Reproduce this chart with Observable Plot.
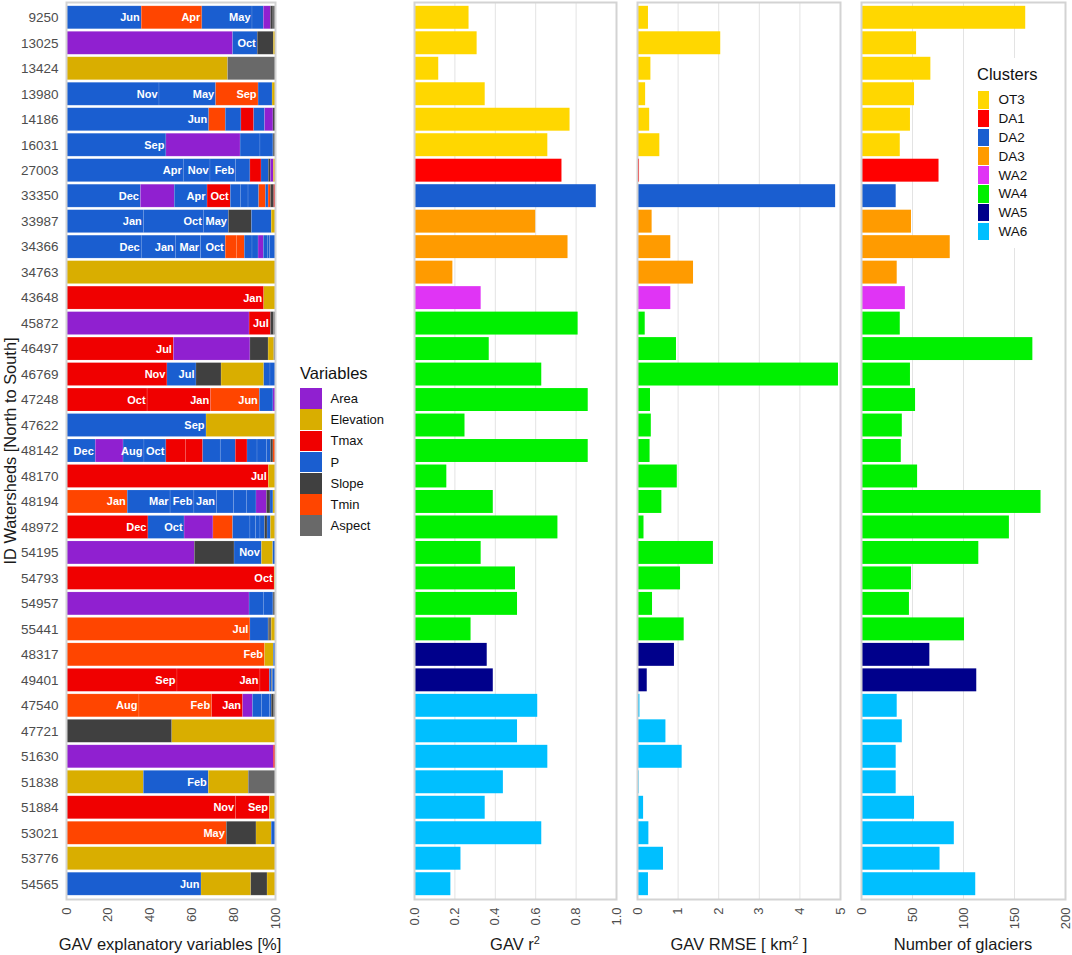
<!DOCTYPE html>
<html>
<head>
<meta charset="utf-8">
<script src="https://cdn.jsdelivr.net/npm/d3@7"></script>
<script src="https://cdn.jsdelivr.net/npm/@observablehq/plot@0.6"></script>
<style>
  body { margin: 0; background: white; font-family: "Liberation Sans", Arial, sans-serif; }
  #chart { position: relative; width: 1072px; height: 955px; overflow: hidden; }
  #chart > svg { position: absolute; top: 0; background: transparent; }
  .title { position: absolute; top: 934px; font-size: 16.5px; color: #1a1a1a; text-align: center; white-space: nowrap; line-height: 20px; }
  .title sup { font-size: 11px; line-height: 0; }
  .legend { position: absolute; background: white; color: #111; }
  .legend h4 { margin: 0; font-weight: normal; font-size: 16.5px; line-height: 20px; }
  .legend .row { position: absolute; display: flex; align-items: center; font-size: 13px; }
  .legend .key { flex: none; }
</style>
</head>
<body>
<div id="chart"></div>
<script>
const ids = ["9250","13025","13424","13980","14186","16031","27003","33350","33987","34366","34763","43648","45872","46497","46769","47248","47622","48142","48170","48194","48972","54195","54793","54957","55441","48317","49401","47540","47721","51630","51838","51884","53021","53776","54565"];

const clusters = ["OT3","OT3","OT3","OT3","OT3","OT3","DA1","DA2","DA3","DA3","DA3","WA2","WA4","WA4","WA4","WA4","WA4","WA4","WA4","WA4","WA4","WA4","WA4","WA4","WA4","WA5","WA5","WA6","WA6","WA6","WA6","WA6","WA6","WA6","WA6"];

const r2 = [.27,.31,.12,.35,.77,.66,.73,.90,.60,.76,.19,.33,.81,.37,.63,.86,.25,.86,.16,.39,.71,.33,.50,.51,.28,.36,.39,.61,.51,.66,.44,.35,.63,.23,.18];

const rmse = [.27,2.05,.33,.2,.3,.55,.05,4.88,.36,.82,1.38,.82,.19,.96,4.95,.32,.34,.31,.98,.6,.16,1.87,1.06,.37,1.15,.91,.24,.06,.7,1.1,.04,.15,.28,.64,.27];

const glaciers = [161,54,68,52,48,38,76,34,49,87,35,43,38,168,48,53,40,39,55,176,145,115,49,47,101,67,113,35,40,34,34,52,91,77,112];

// [variable, share %, month of the climate variable] for every watershed, left to right
const segments = [
  [["P",36,"Jun"],["Tmin",29,"Apr"],["P",24,"May"],["P",5.4],["Area",3.4],["Slope",1.2],["Aspect",1]],
  [["Area",79.7],["P",11.8,"Oct"],["Slope",7.7],["Elevation",.8]],
  [["Elevation",77.3],["Aspect",22.7]],
  [["P",44.5,"Nov"],["P",27.1,"May"],["Tmin",20.3,"Sep"],["P",6.7],["Elevation",1.4]],
  [["P",68.3,"Jun"],["Tmin",7.9],["P",7.5],["Tmax",6.1],["P",5.2],["Area",4],["Slope",1]],
  [["P",47.8,"Sep"],["Area",35.5],["P",9.5],["P",6.2],["Aspect",1]],
  [["P",56.1,"Apr"],["P",12.8,"Nov"],["P",12.3,"Feb"],["P",6.8],["Tmax",5.3],["P",3.5],["Slope",1],["Area",1.4],["Elevation",.8]],
  [["P",35.6,"Dec"],["Area",16.2],["P",15.7,"Apr"],["Tmax",11.1,"Oct"],["P",4.8],["P",3.7],["P",5.1],["Tmin",3.2],["P",1.3],["Tmin",1.1],["Slope",1.6],["Tmax",.6]],
  [["P",37,"Jan"],["P",28.7,"Oct"],["P",12,"May"],["Slope",11],["P",9.5],["Elevation",1.8]],
  [["P",36,"Dec"],["P",16.3,"Jan"],["P",12.1,"Mar"],["P",11.8,"Oct"],["Tmin",5.3],["Tmin",3.8],["P",3.7],["P",2.9],["Area",2.5],["P",1.9],["P",1.1],["P",2.6]],
  [["Elevation",100]],
  [["Tmax",94.6,"Jan"],["Elevation",5.4]],
  [["Area",87.6],["Tmax",10.2,"Jul"],["Slope",1.4],["Aspect",.8]],
  [["Tmax",51.4,"Jul"],["Area",36.6],["Slope",8.7],["Elevation",2.7],["Aspect",.6]],
  [["Tmax",48.3,"Nov"],["P",13.9,"Jul"],["Slope",12],["Elevation",20.4],["P",3],["P",2.4]],
  [["Tmax",38.8,"Oct"],["Tmax",30.4,"Jan"],["Tmin",23.3,"Jun"],["P",6.5],["Area",1]],
  [["P",67,"Sep"],["Elevation",33]],
  [["P",14,"Dec"],["Area",13.3],["P",10,"Aug"],["P",10.5,"Oct"],["Tmax",9.3],["Tmax",8.3],["P",8.4],["P",7.2],["Tmax",5.6],["P",4.8],["P",4.5],["P",1.9],["Slope",1.2],["Tmin",1]],
  [["Tmax",96.8,"Jul"],["Elevation",3.2]],
  [["Tmin",29.3,"Jan"],["P",20.5,"Mar"],["P",11.4,"Feb"],["P",10.8,"Jan"],["P",8.2],["P",6.1],["P",4.6],["Area",5],["Slope",1.7],["P",1.4],["Elevation",1]],
  [["Tmax",39.2,"Dec"],["P",17.3,"Oct"],["Area",13.8],["Tmin",9.4],["P",8.3],["P",2.7],["P",2.1],["P",2.2],["Slope",1.2],["P",1.6],["Elevation",2.2]],
  [["Area",61.4],["Slope",19],["P",13.1,"Nov"],["Elevation",5.4],["P",1.1]],
  [["Tmax",99.6,"Oct"],["Elevation",.4]],
  [["Area",87.6],["P",6.8],["P",4.6],["Aspect",1]],
  [["Tmin",88,"Jul"],["P",8.7],["Aspect",1.5],["Elevation",1.8]],
  [["Tmin",95,"Feb"],["Elevation",4.2],["P",.8]],
  [["Tmax",53.1,"Sep"],["Tmax",39.7,"Jan"],["Tmax",4.5],["P",.9],["Aspect",.5],["P",1.3]],
  [["Tmin",34.9,"Aug"],["Tmin",34.8,"Feb"],["Tmax",14.8,"Jan"],["Area",4.7],["P",4.3],["P",3.9],["P",.8],["Slope",1.2],["Aspect",.6]],
  [["Slope",50.6],["Elevation",49.4]],
  [["Area",99.2],["Tmax",.8]],
  [["Elevation",37],["P",31.1,"Feb"],["Elevation",19.1],["Aspect",12.8]],
  [["Tmax",81.2,"Nov"],["Tmax",16.2,"Sep"],["Elevation",2.6]],
  [["Tmin",76.7,"May"],["Slope",14.2],["Elevation",7.3],["P",1.8]],
  [["Elevation",100]],
  [["P",64.6,"Jun"],["Elevation",23.8],["Slope",7.8],["Elevation",3.8]]
];

const variableNames = ["Area","Elevation","Tmax","P","Slope","Tmin","Aspect"];
const variableColors = ["#9020d0","#d9ae00","#f00000","#1a5ed0","#404040","#ff4500","#696969"];
const clusterNames = ["OT3","DA1","DA2","DA3","WA2","WA4","WA5","WA6"];
const clusterColors = ["#ffd700","#ff0000","#1a5ed0","#ff9b00","#e034f5","#00f000","#00008b","#00bfff"];

const pctTicks = [0,20,40,60,80,100];
const r2Ticks = [0,.2,.4,.6,.8,1];
const rmseTicks = [0,1,2,3,4,5];
const glacierTicks = [0,50,100,150,200];

const HEIGHT = 955;
const MARGIN_TOP = 2;
const MARGIN_BOTTOM = 56;
const chart = document.getElementById("chart");

// same band layout in all four panels; round off or the rows shrink to whole pixels
const yScale = { domain: ids, paddingInner: 0.1, paddingOuter: 0.15, round: false, label: null };
const frame = Plot.frame({ stroke: "#d3d3d3", strokeWidth: 2 });
const font = { fontFamily: "Liberation Sans, Arial, sans-serif", fontSize: "13px", background: "transparent" };

function xAxis(ticks, format) {
  return Plot.axisX({
    ticks: ticks,
    tickFormat: format,
    tickRotate: -90,
    tickSize: 0,
    tickPadding: 8,
    label: null,
    color: "#4d4d4d",
    fontSize: 13
  });
}

function place(svg, left) {
  svg.style.left = left + "px";
  chart.append(svg);
}

// explanatory variables, stacked
const rows = segments.flatMap((segs, i) =>
  segs.map(s => ({ id: ids[i], variable: s[0], share: s[1], month: s[2] || null }))
);

place(Plot.plot({
  width: 292,
  height: HEIGHT,
  marginTop: MARGIN_TOP,
  marginBottom: MARGIN_BOTTOM,
  marginLeft: 66,
  marginRight: 17,
  style: font,
  x: { domain: [0, 100], label: null },
  y: yScale,
  color: { domain: variableNames, range: variableColors },
  marks: [
    Plot.barX(rows, Plot.stackX({
      x: "share", y: "id", fill: "variable",
      stroke: "white", strokeOpacity: 0.2, strokeWidth: 0.6
    })),
    Plot.text(rows, Plot.stackX2({
      x: "share", y: "id", text: "month",
      textAnchor: "end", dx: -2, fill: "white", fontWeight: "bold", fontSize: 11
    })),
    Plot.axisY({ tickSize: 0, tickPadding: 8, label: null, color: "#4d4d4d", fontSize: 13.5 }),
    xAxis(pctTicks, d3.format("d")),
    Plot.text(["ID Watersheds [North to South]"], {
      frameAnchor: "left", rotate: -90, dx: -56, textAnchor: "middle", fontSize: 16.4, fill: "#1a1a1a"
    }),
    frame
  ]
}), 0);

// the three cluster coloured panels
function barPanel(values, domain, ticks, format, left, width, marginLeft, marginRight) {
  const data = ids.map((id, i) => ({ id: id, value: values[i], cluster: clusters[i] }));
  place(Plot.plot({
    width: width,
    height: HEIGHT,
    marginTop: MARGIN_TOP,
    marginBottom: MARGIN_BOTTOM,
    marginLeft: marginLeft,
    marginRight: marginRight,
    style: font,
    x: { domain: domain, label: null },
    y: { ...yScale, axis: null },
    color: { domain: clusterNames, range: clusterColors },
    marks: [
      Plot.gridX(ticks, { stroke: "#e3e3e3", strokeOpacity: 1, strokeWidth: 1 }),
      Plot.barX(data, { x: "value", y: "id", fill: "cluster" }),
      xAxis(ticks, format),
      frame
    ]
  }), left);
}

barPanel(r2, [0, 1], r2Ticks, d3.format(".1f"), 390, 238, 24, 12);
barPanel(rmse, [0, 5], rmseTicks, d3.format("d"), 625, 225, 12, 10);
barPanel(glaciers, [0, 200], glacierTicks, d3.format("d"), 850, 222, 11, 7);

// axis titles, html because of the superscripts
const titles = [
  ["GAV explanatory variables [%]", 170],
  ["GAV r<sup>2</sup>", 515],
  ["GAV RMSE [ km<sup>2</sup> ]", 739],
  ["Number of glaciers", 963]
];
titles.forEach(([html, center]) => {
  const div = document.createElement("div");
  div.className = "title";
  div.innerHTML = html;
  div.style.left = (center - 150) + "px";
  div.style.width = "300px";
  chart.append(div);
});

// legends
function legend(title, names, colors, box) {
  const div = document.createElement("div");
  div.className = "legend";
  div.style.left = box.left + "px";
  div.style.top = box.top + "px";
  div.style.width = box.width + "px";
  div.style.height = box.height + "px";
  const h = document.createElement("h4");
  h.textContent = title;
  h.style.marginLeft = box.titleLeft + "px";
  h.style.marginTop = box.titleTop + "px";
  div.append(h);
  names.forEach((name, i) => {
    const row = document.createElement("div");
    row.className = "row";
    row.style.left = box.keyLeft + "px";
    row.style.top = (box.keysTop + i * box.step) + "px";
    row.style.height = box.step + "px";
    const key = document.createElement("div");
    key.className = "key";
    key.style.background = colors[i];
    key.style.width = box.keyWidth + "px";
    key.style.height = (box.step - box.gap) + "px";
    key.style.marginRight = box.keyMargin + "px";
    const label = document.createElement("span");
    label.textContent = name;
    label.style.fontSize = box.fontSize + "px";
    row.append(key, label);
    div.append(row);
  });
  chart.append(div);
}

legend("Variables", variableNames, variableColors, {
  left: 300, top: 360, width: 90, height: 180, titleLeft: 0, titleTop: 3,
  keyLeft: 0, keysTop: 28, step: 21.2, gap: 0.6, keyWidth: 21.5, keyMargin: 9, fontSize: 13
});
legend("Clusters", clusterNames, clusterColors, {
  left: 968, top: 58, width: 82, height: 190, titleLeft: 9, titleTop: 6,
  keyLeft: 10, keysTop: 32.5, step: 18.8, gap: 1.2, keyWidth: 11, keyMargin: 9.5, fontSize: 13.5
});
</script>
</body>
</html>
